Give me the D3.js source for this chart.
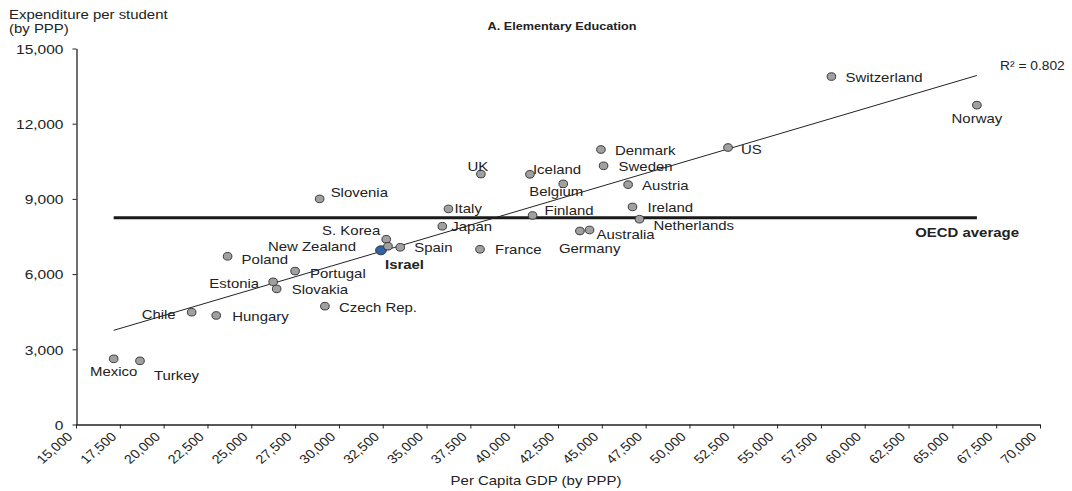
<!DOCTYPE html>
<html>
<head>
<meta charset="utf-8">
<script src="https://cdn.jsdelivr.net/npm/d3@7"></script>
<style>
  html, body { margin: 0; padding: 0; background: #fff; }
  svg { display: block; font-family: "Liberation Sans", Arial, sans-serif; }
</style>
</head>
<body>
<svg id="chart" width="1072" height="491"></svg>
<script>
// Countries with per-capita GDP and elementary expenditure per student (both in PPP $)
const countries = ["Mexico","Turkey","Chile","Hungary","Poland","Estonia","Slovakia","Portugal",
  "Slovenia","Czech Rep.","Israel","S. Korea","New Zealand","Spain","Japan","Italy","France","UK",
  "Iceland","Finland","Belgium","Germany","Australia","Denmark","Sweden","Austria","Ireland",
  "Netherlands","US","Switzerland","Norway"];
const gdpPerCapita = [17150,18650,21600,23000,23650,26250,26450,27500,
  28900,29200,32400,32700,32800,33500,35900,36250,38050,38100,
  40900,41050,42800,43750,44300,44950,45100,46500,46750,
  47150,52200,58100,66400];
const spendPerStudent = [2620,2540,4480,4350,6710,5690,5410,6120,
  9000,4720,6950,7390,7110,7070,7910,8600,6990,9990,
  9980,8340,9600,7720,7760,10970,10320,9570,8680,
  8190,11050,13880,12740];
const oecdAverage = 8250;
const rSquaredLabel = "R² = 0.802";
const highlight = "Israel";

const xTicks = d3.range(15000, 70001, 2500);
const yTicks = [0, 3000, 6000, 9000, 12000, 15000];

const title = "A. Elementary Education";
const yTitle = ["Expenditure per student", "(by PPP)"];
const xTitle = "Per Capita GDP (by PPP)";

// Label placement around each marker: [anchor, dx, dy]
const labelPlacement = {
  "Mexico": ["middle", 0, 13], "Turkey": ["start", 14, 15], "Chile": ["end", -16, 2],
  "Hungary": ["start", 16, 1], "Poland": ["start", 14, 3], "Estonia": ["end", -14, 2],
  "Slovakia": ["start", 15, 1], "Portugal": ["start", 15, 2], "Slovenia": ["start", 11, -6],
  "Czech Rep.": ["start", 14, 1], "Israel": ["start", 4, 14], "S. Korea": ["end", -6, -9],
  "New Zealand": ["end", -32, 0], "Spain": ["start", 14, 0], "Japan": ["start", 9, 0],
  "Italy": ["start", 6, 0], "France": ["start", 15, 0], "UK": ["middle", -3, -8],
  "Iceland": ["start", 3, -5], "Finland": ["start", 12, -5], "Belgium": ["start", -34, 8],
  "Germany": ["start", -21, 17], "Australia": ["start", 7, 4], "Denmark": ["start", 14, 1],
  "Sweden": ["start", 15, 1], "Austria": ["start", 14, 1], "Ireland": ["start", 15, 1],
  "Netherlands": ["start", 14, 6], "US": ["start", 13, 2], "Switzerland": ["start", 14, 1],
  "Norway": ["middle", 0, 13]
};

const SX = 1.15;      // horizontal glyph stretch used throughout the figure
const ink = "#222";

const svg = d3.select("#chart");
const x = d3.scaleLinear().domain([15000, 70000]).range([76, 1040]);
const y = d3.scaleLinear().domain([0, 15000]).range([424.5, 48.5]);

const data = countries.map((c, i) => ({ name: c, gx: gdpPerCapita[i], sy: spendPerStudent[i] }));

function stretched(sel, px, py, extra) {
  return sel.attr("x", 0).attr("y", 0)
    .attr("transform", `translate(${px},${py}) scale(${SX},1)` + (extra || ""));
}

// Axes
const gx = svg.append("g").attr("transform", `translate(0,${y(0)})`)
  .call(d3.axisBottom(x).tickValues(xTicks).tickSize(4).tickSizeOuter(0).tickFormat(d3.format(",")));
gx.select(".domain").attr("stroke", ink).attr("stroke-width", 1.3);
gx.selectAll(".tick line").attr("stroke", ink);
gx.selectAll(".tick text")
  .attr("font-size", 12.5).attr("fill", ink).attr("text-anchor", "end").attr("dy", null)
  .each(function () { stretched(d3.select(this), -3, 13, " rotate(-45)"); });

const gy = svg.append("g").attr("transform", `translate(${x(15000) + 0.5},0)`)
  .call(d3.axisLeft(y).tickValues(yTicks).tickSize(4).tickSizeOuter(0).tickFormat(d3.format(",")));
gy.select(".domain").attr("stroke", ink).attr("stroke-width", 1.3);
gy.selectAll(".tick line").attr("stroke", ink);
gy.selectAll(".tick text")
  .attr("font-size", 13.5).attr("fill", ink).attr("text-anchor", "end").attr("dy", "0.35em")
  .each(function () { stretched(d3.select(this), -13, 0); });

// OECD average across the span of the data
const xExt = d3.extent(gdpPerCapita);
svg.append("line")
  .attr("x1", x(xExt[0])).attr("x2", x(xExt[1]))
  .attr("y1", y(oecdAverage)).attr("y2", y(oecdAverage))
  .attr("stroke", "#1a1a1a").attr("stroke-width", 3);

// Least-squares trend line
const mx = d3.mean(gdpPerCapita), my = d3.mean(spendPerStudent);
const slope = d3.sum(data, d => (d.gx - mx) * (d.sy - my)) / d3.sum(data, d => (d.gx - mx) ** 2);
const intercept = my - slope * mx;
svg.append("line")
  .attr("x1", x(xExt[0])).attr("y1", y(intercept + slope * xExt[0]))
  .attr("x2", x(xExt[1])).attr("y2", y(intercept + slope * xExt[1]))
  .attr("stroke", ink).attr("stroke-width", 1);

// Markers
svg.append("g").selectAll("ellipse").data(data).join("ellipse")
  .attr("cx", d => x(d.gx)).attr("cy", d => y(d.sy))
  .attr("rx", d => d.name === highlight ? 5.4 : 4.3)
  .attr("ry", d => d.name === highlight ? 4.5 : 3.8)
  .attr("fill", d => d.name === highlight ? "#2f63a8" : "#a0a0a0")
  .attr("stroke", "#3a3a3a").attr("stroke-width", 1);

// Country labels
svg.append("g").selectAll("text").data(data).join("text")
  .attr("font-size", 13)
  .attr("font-weight", d => d.name === highlight ? "bold" : "normal")
  .attr("fill", ink)
  .attr("text-anchor", d => labelPlacement[d.name][0])
  .attr("dy", "0.35em")
  .text(d => d.name)
  .each(function (d) {
    const p = labelPlacement[d.name];
    stretched(d3.select(this), x(d.gx) + p[1], y(d.sy) + p[2]);
  });

// Annotations
stretched(svg.append("text"), 1019, 237)
  .attr("font-size", 13).attr("font-weight", "bold").attr("fill", ink)
  .attr("text-anchor", "end").text("OECD average");
stretched(svg.append("text"), 1000, 69.5)
  .attr("font-size", 12).attr("fill", ink).text(rSquaredLabel);

// Titles
stretched(svg.append("text"), 562, 30)
  .attr("font-size", 11).attr("font-weight", "bold").attr("fill", ink)
  .attr("text-anchor", "middle").text(title);
yTitle.forEach((t, i) => {
  stretched(svg.append("text"), 9, 19 + i * 14)
    .attr("font-size", 13).attr("fill", ink).text(t);
});
stretched(svg.append("text"), 536, 485)
  .attr("font-size", 13).attr("fill", ink).attr("text-anchor", "middle").text(xTitle);
</script>
</body>
</html>
